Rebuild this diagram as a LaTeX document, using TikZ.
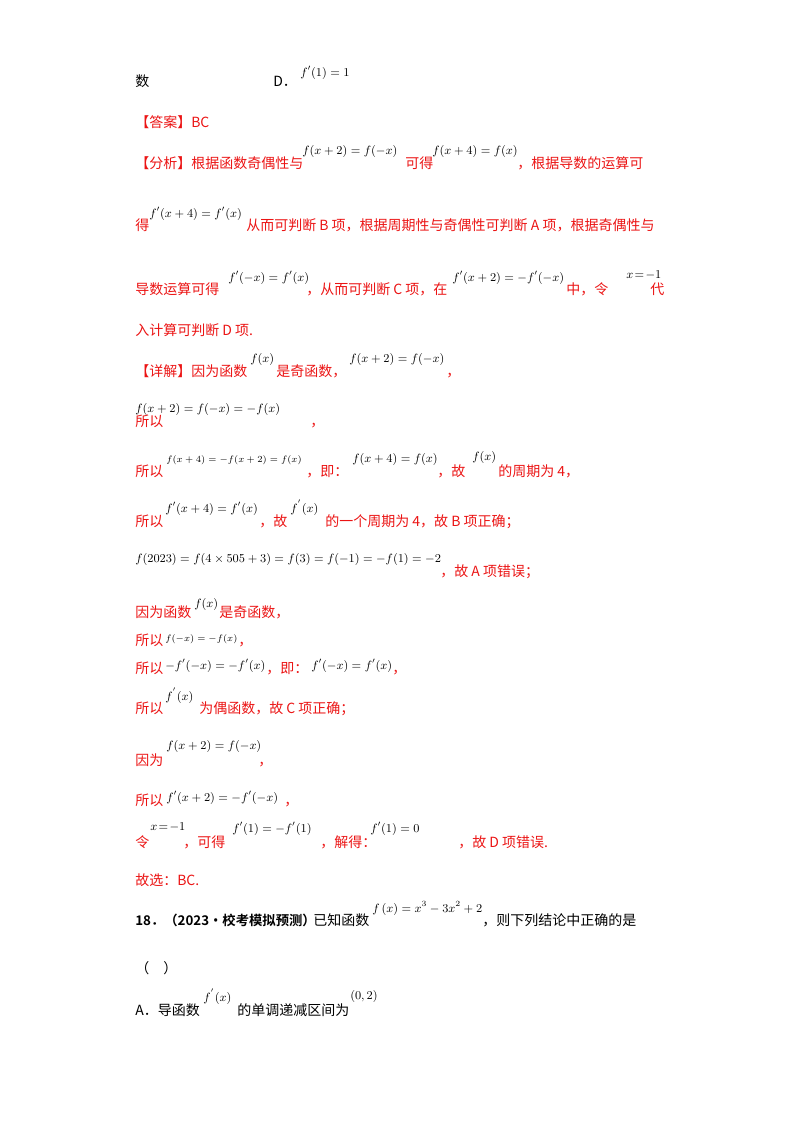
\documentclass[tikz,border=0pt]{standalone}
\usepackage{fontspec}
\setmainfont{Liberation Serif}
\newfontfamily\cjk{Noto Sans CJK SC}
\newfontfamily\cjkb{Noto Sans CJK SC Bold}
\definecolor{ansred}{RGB}{235,20,20}
\begin{document}
\begin{tikzpicture}[x=0.75pt,y=-0.75pt,
  txt/.style={anchor=base west,inner sep=0pt,font=\fontsize{10.5}{12}\selectfont\cjk},
  rt/.style={txt,text=ansred},
  mt/.style={anchor=base west,inner sep=0pt,font=\fontsize{9.1}{11}\selectfont,text=black},
  smt/.style={mt,font=\fontsize{7.4}{9}\selectfont}]
\useasboundingbox (0,0) rectangle (800,1132);
\node[txt] (a1) at (135,86) {数};
\node[txt] (a2) at (273,86) {D．};
\node[mt] (a3) at (300,76) {$f'(1)=1$};
\node[rt] (b1) at (135,127) {【答案】BC};
\node[rt] (c1) at (135,168) {【分析】根据函数奇偶性与};
\node[mt] (c2) at (302,154) {$f(x+2)=f(-x)$};
\node[rt] (c3) at (405,168) {可得};
\node[mt] (c4) at (432,154) {$f(x+4)=f(x)$};
\node[rt] (c5) at (517,168) {，根据导数的运算可};
\node[rt] (d1) at (135,230) {得};
\node[mt] (d2) at (149,217) {$f'(x+4)=f'(x)$};
\node[rt] (d3) at (246,230) {从而可判断 B 项，根据周期性与奇偶性可判断 A 项，根据奇偶性与};
\node[rt] (e1) at (135,294) {导数运算可得};
\node[mt] (e2) at (228,281) {$f'(-x)=f'(x)$};
\node[rt] (e3) at (306,294) {，从而可判断 C 项，在};
\node[mt] (e4) at (452,281) {$f'(x+2)=-f'(-x)$};
\node[rt] (e5) at (566,294) {中，令};
\node[mt] (e6) at (626,278) {$x\!=\!-1$};
\node[rt] (e7) at (650,294) {代};
\node[rt] (f1) at (135,335) {入计算可判断 D 项.};
\node[rt] (g1) at (135,376) {【详解】因为函数};
\node[mt] (g2) at (250,362) {$f(x)$};
\node[rt] (g3) at (276,376) {是奇函数，};
\node[mt] (g4) at (349,362) {$f(x+2)=f(-x)$};
\node[rt] (g5) at (446,376) {，};
\node[mt] (h1) at (135,412) {$f(x+2)=f(-x)=-f(x)$};
\node[rt] (h2) at (135,426) {所以};
\node[rt] (h3) at (310,426) {，};
\node[rt] (i1) at (135,476) {所以};
\node[smt] (i2) at (166,462) {$f(x+4)=-f(x+2)=f(x)$};
\node[rt] (i3) at (306,476) {，即：};
\node[mt] (i4) at (352,462) {$f(x+4)=f(x)$};
\node[rt] (i5) at (437,476) {，故};
\node[mt] (i6) at (472,460) {$f(x)$};
\node[rt] (i7) at (498,476) {的周期为 4，};
\node[rt] (j1) at (135,526) {所以};
\node[mt] (j2) at (165,512) {$f'(x+4)=f'(x)$};
\node[rt] (j3) at (259,526) {，故};
\node[mt] (j4) at (290,512) {$f^{'}(x)$};
\node[rt] (j5) at (325,526) {的一个周期为 4，故 B 项正确；};
\node[mt] (k1) at (135,562) {$f(2023)=f(4\times505+3)=f(3)=f(-1)=-f(1)=-2$};
\node[rt] (k2) at (440,576) {，故 A 项错误；};
\node[rt] (l1) at (135,617) {因为函数};
\node[mt] (l2) at (194,607) {$f(x)$};
\node[rt] (l3) at (219,617) {是奇函数，};
\node[rt] (m1) at (135,645) {所以};
\node[smt] (m2) at (165,641) {$f(-x)=-f(x)$};
\node[rt] (m3) at (238,645) {，};
\node[rt] (n1) at (135,673) {所以};
\node[mt] (n2) at (165,669) {$-f'(-x)=-f'(x)$};
\node[rt] (n3) at (266,673) {，即：};
\node[mt] (n4) at (311,669) {$f'(-x)=f'(x)$};
\node[rt] (n5) at (392,673) {，};
\node[rt] (o1) at (135,713) {所以};
\node[mt] (o2) at (165,700) {$f^{'}(x)$};
\node[rt] (o3) at (199,713) {为偶函数，故 C 项正确；};
\node[mt] (p1) at (166,749) {$f(x+2)=f(-x)$};
\node[rt] (p2) at (135,765) {因为};
\node[rt] (p3) at (258,765) {，};
\node[rt] (q1) at (135,805) {所以};
\node[mt] (q2) at (166,801) {$f'(x+2)=-f'(-x)$};
\node[rt] (q3) at (284,805) {，};
\node[rt] (r1) at (135,847) {令};
\node[mt] (r2) at (150,830) {$x\!=\!-1$};
\node[rt] (r3) at (183,847) {，可得};
\node[mt] (r4) at (232,832) {$f'(1)=-f'(1)$};
\node[rt] (r5) at (320,847) {，解得：};
\node[mt] (r6) at (370,832) {$f'(1)=0$};
\node[rt] (r7) at (458,847) {，故 D 项错误.};
\node[rt] (s1) at (135,885) {故选：BC.};
\node[txt,font=\fontsize{10}{12}\selectfont\cjkb] (t1) at (135,925) {18．（2023·校考模拟预测）};
\node[txt] (t2) at (313,925) {已知函数};
\node[mt] (t3) at (372,912) {$f\left(x\right)=x^3-3x^2+2$};
\node[txt] (t4) at (482,925) {，则下列结论中正确的是};
\node[txt] (u1) at (135,973) {（\quad）};
\node[txt] (v1) at (135,1015) {A．导函数};
\node[mt] (v2) at (203,1001) {$f^{'}(x)$};
\node[txt] (v3) at (237,1015) {的单调递减区间为};
\node[mt] (v4) at (350,999) {$\left(0,2\right)$};
\end{tikzpicture}
\end{document}
